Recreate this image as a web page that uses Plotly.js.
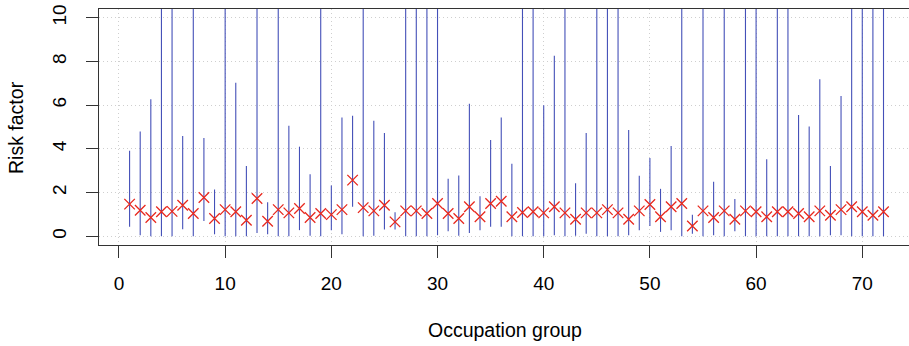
<!DOCTYPE html>
<html>
<head>
<meta charset="utf-8">
<script src="https://cdn.plot.ly/plotly-3.0.1.min.js"></script>
<style>html,body{margin:0;padding:0;background:#fff;overflow:hidden}</style>
</head>
<body>
<div id="chart" style="width:909px;height:346px"></div>
<script>
// Occupation groups 1..72
const groups = Array.from({length: 72}, (_, k) => k + 1);
// Point estimates (red crosses)
const estimate = [
  1.47, 1.19, 0.86, 1.12, 1.14, 1.42, 1.04, 1.77, 0.81, 1.22,
  1.12, 0.73, 1.73, 0.69, 1.22, 1.07, 1.27, 0.86, 1.04, 0.99,
  1.22, 2.57, 1.31, 1.16, 1.42, 0.66, 1.16, 1.16, 1.04, 1.50,
  1.04, 0.81, 1.35, 0.89, 1.50, 1.60, 0.89, 1.09, 1.12, 1.07,
  1.35, 1.07, 0.78, 1.07, 1.07, 1.22, 1.07, 0.78, 1.16, 1.45,
  0.89, 1.35, 1.50, 0.47, 1.16, 0.86, 1.16, 0.78, 1.16, 1.12,
  0.89, 1.12, 1.12, 1.04, 0.89, 1.16, 0.96, 1.22, 1.35, 1.12,
  0.96, 1.12
];
// Lower bounds of the intervals
const lower = [
  0.43, 0.05, 0.00, 0.00, 0.00, 0.32, 0.00, 0.70, 0.09, 0.00,
  0.00, 0.00, 0.15, 0.09, 0.00, 0.00, 0.28, 0.02, 0.00, 0.28,
  0.09, 1.35, 0.00, 0.02, 0.31, 0.31, 0.00, 0.00, 0.00, 0.05,
  0.23, 0.02, 0.15, 0.28, 0.43, 0.43, 0.00, 0.00, 0.00, 0.00,
  0.05, 0.00, 0.02, 0.12, 0.00, 0.00, 0.00, 0.05, 0.28, 0.47,
  0.20, 0.28, 0.00, 0.12, 0.00, 0.05, 0.00, 0.23, 0.00, 0.00,
  0.00, 0.00, 0.00, 0.00, 0.00, 0.00, 0.05, 0.05, 0.00, 0.00,
  0.00, 0.00
];
// Upper bounds (12 = runs beyond the top of the plot)
const upper = [
  3.91, 4.79, 6.27, 12, 12, 4.59, 12, 4.50, 2.14, 12,
  7.02, 3.21, 12, 1.56, 12, 5.06, 4.10, 2.84, 12, 2.32,
  5.43, 5.52, 12, 5.29, 4.72, 1.10, 12, 12, 12, 12,
  2.63, 2.78, 6.06, 1.83, 4.40, 5.44, 3.32, 12, 12, 5.99,
  8.26, 12, 2.43, 4.72, 12, 12, 12, 4.86, 2.77, 3.58,
  2.17, 4.13, 12, 0.99, 12, 2.49, 12, 1.70, 12, 12,
  3.52, 12, 12, 5.55, 5.02, 7.19, 3.21, 6.42, 12, 12,
  12, 12
];
const xTicks = [0, 10, 20, 30, 40, 50, 60, 70];
const yTicks = [0, 2, 4, 6, 8, 10];

const segX = [], segY = [];
groups.forEach((g, k) => {
  segX.push(g, g, null);
  segY.push(lower[k], upper[k], null);
});

const traces = [
  {
    type: 'scatter', mode: 'lines', x: segX, y: segY,
    line: {color: '#4450b8', width: 1.1},
    hoverinfo: 'skip', showlegend: false, connectgaps: false
  },
  {
    type: 'scatter', mode: 'markers', x: groups, y: estimate,
    marker: {symbol: 'x-thin-open', size: 10.5, color: '#e8281e', line: {color: '#e8281e', width: 1.3}},
    showlegend: false
  }
];

const fontFam = '"Liberation Sans", Arial, Helvetica, sans-serif';
const layout = {
  width: 909, height: 346,
  margin: {l: 99, r: 0, t: 9, b: 101, pad: 0},
  paper_bgcolor: '#ffffff', plot_bgcolor: '#ffffff',
  font: {family: fontFam, size: 19, color: '#000'},
  showlegend: false,
  xaxis: {
    range: [-1.88, 74.4], tickmode: 'array', tickvals: xTicks, ticktext: xTicks.map(String),
    showline: true, mirror: true, linecolor: '#333', linewidth: 1,
    ticks: 'outside', ticklen: 12, tickcolor: '#333', tickwidth: 1,
    showgrid: true, gridcolor: '#cfcfcf', griddash: '1px,3px', gridwidth: 1,
    zeroline: false, ticklabelstandoff: 9,
    tickfont: {family: fontFam, size: 19, color: '#000'}
  },
  yaxis: {
    range: [-0.4, 10.4], tickmode: 'array', tickvals: yTicks, ticktext: yTicks.map(String),
    showline: true, mirror: false, linecolor: '#333', linewidth: 1,
    ticks: 'outside', ticklen: 12, tickcolor: '#333', tickwidth: 1,
    showgrid: true, gridcolor: '#cfcfcf', griddash: '1px,3px', gridwidth: 1,
    zeroline: false, tickangle: -90, ticklabelstandoff: 12,
    tickfont: {family: fontFam, size: 19, color: '#000'}
  },
  annotations: [
    {text: 'Risk factor', xref: 'paper', yref: 'paper', x: -0.1025, y: 0.5,
     xanchor: 'center', yanchor: 'middle', textangle: -90, showarrow: false,
     font: {family: fontFam, size: 19.5, color: '#000'}},
    {text: 'Occupation group', xref: 'paper', yref: 'paper', x: 0.501, y: -0.36,
     xanchor: 'center', yanchor: 'middle', showarrow: false,
     font: {family: fontFam, size: 19.5, color: '#000'}}
  ]
};

Plotly.newPlot('chart', traces, layout, {staticPlot: true, displayModeBar: false});
</script>
</body>
</html>
